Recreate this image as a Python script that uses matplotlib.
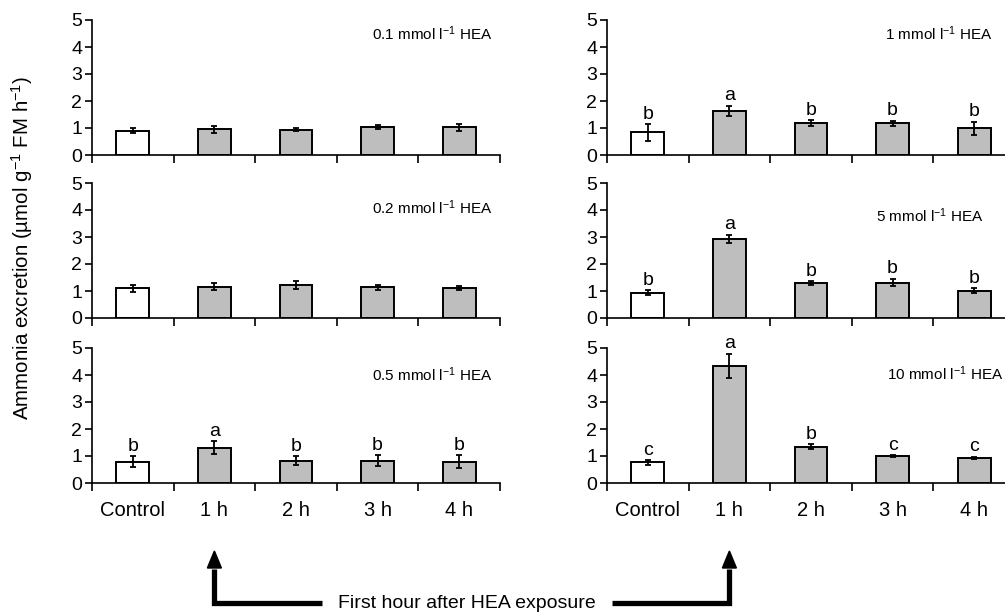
import numpy as np
import matplotlib
matplotlib.use('Agg')
import matplotlib.pyplot as plt
from matplotlib.patches import Polygon

# Arial-like font
plt.rcParams['font.family'] = ['Liberation Sans', 'DejaVu Sans']
plt.rcParams['mathtext.default'] = 'regular'

groups = ['Control', '1 h', '2 h', '3 h', '4 h']

# left column: 0.1, 0.2, 0.5 mmol/l
hea_01 = [0.90, 0.96, 0.94, 1.03, 1.03]
hea_01_err = [0.10, 0.13, 0.06, 0.07, 0.13]
hea_02 = [1.11, 1.16, 1.23, 1.13, 1.11]
hea_02_err = [0.13, 0.13, 0.14, 0.11, 0.09]
hea_05 = [0.79, 1.31, 0.83, 0.83, 0.79]
hea_05_err = [0.20, 0.24, 0.17, 0.21, 0.24]

# right column: 1, 5, 10 mmol/l
hea_1 = [0.84, 1.64, 1.18, 1.18, 0.99]
hea_1_err = [0.31, 0.18, 0.11, 0.09, 0.24]
hea_5 = [0.94, 2.93, 1.30, 1.31, 1.01]
hea_5_err = [0.09, 0.15, 0.06, 0.14, 0.10]
hea_10 = [0.76, 4.34, 1.35, 1.00, 0.94]
hea_10_err = [0.09, 0.45, 0.08, 0.04, 0.04]

letters_05 = ['b', 'a', 'b', 'b', 'b']
letters_1 = ['b', 'a', 'b', 'b', 'b']
letters_5 = ['b', 'a', 'b', 'b', 'b']
letters_10 = ['c', 'a', 'b', 'c', 'c']

conc_labels = ['0.1 mmol l$^{-1}$ HEA', '0.2 mmol l$^{-1}$ HEA', '0.5 mmol l$^{-1}$ HEA',
               '1 mmol l$^{-1}$ HEA', '5 mmol l$^{-1}$ HEA', '10 mmol l$^{-1}$ HEA']

W, H = 1005, 613
fig = plt.figure(figsize=(W / 100, H / 100), dpi=100)

col_x = [92, 607]
ax_w = 408
row_bottom = [155, 318, 483]
ax_h = 135

panels = [
    (0, 0, hea_01, hea_01_err, None, conc_labels[0], (0.983, 0.895)),
    (0, 1, hea_02, hea_02_err, None, conc_labels[1], (0.983, 0.82)),
    (0, 2, hea_05, hea_05_err, letters_05, conc_labels[2], (0.983, 0.80)),
    (1, 0, hea_1, hea_1_err, letters_1, conc_labels[3], (0.946, 0.90)),
    (1, 1, hea_5, hea_5_err, letters_5, conc_labels[4], (0.924, 0.755)),
    (1, 2, hea_10, hea_10_err, letters_10, conc_labels[5], (0.971, 0.81)),
]

x = np.arange(len(groups))
bar_colors = ['white'] + ['#bebebe'] * 4

for col, row, vals, errs, letters, lab, lab_pos in panels:
    ax = fig.add_axes([col_x[col] / W, 1 - row_bottom[row] / H, ax_w / W, ax_h / H])
    ax.bar(x, vals, width=0.4, color=bar_colors, edgecolor='black', linewidth=1.4, zorder=2)
    ax.errorbar(x, vals, yerr=errs, fmt='none', ecolor='black', elinewidth=1.3,
                capsize=2.5, capthick=1.3, zorder=3)
    if letters:
        for xi, v, e, l in zip(x, vals, errs, letters):
            ax.annotate(l, (xi, v + e), xytext=(0, 1), textcoords='offset points',
                        ha='center', va='bottom', fontsize=14)
    ax.text(lab_pos[0], lab_pos[1], lab, transform=ax.transAxes, ha='right', va='center',
            fontsize=11)
    ax.set_xlim(-0.5, 4.5)
    ax.set_ylim(0, 5)
    ax.set_yticks(range(6))
    ax.tick_params(axis='y', labelsize=14, length=5, width=1.2, pad=2)
    ax.set_xticks(x)
    ax.set_xticks(np.arange(-0.5, 5, 1), minor=True)
    ax.tick_params(axis='x', which='major', length=0, labelsize=14.5, pad=13)
    ax.tick_params(axis='x', which='minor', length=6, width=1.2)
    if row == 2:
        ax.set_xticklabels(groups)
    else:
        ax.set_xticklabels([])
    for s in ['top', 'right']:
        ax.spines[s].set_visible(False)
    for s in ['left', 'bottom']:
        ax.spines[s].set_linewidth(1.2)

fig.text(22 / W, 1 - 248 / H, 'Ammonia excretion (µmol g$^{-1}$ FM h$^{-1}$)',
         rotation=90, ha='center', va='center', fontsize=14.8)

# arrows pointing at the 1 h columns, in pixel space
ov = fig.add_axes([0, 0, 1, 1])
ov.set_xlim(0, W)
ov.set_ylim(H, 0)
ov.axis('off')
ov.patch.set_visible(False)

xl = col_x[0] + (1 + 0.5) / 5 * ax_w
xr = col_x[1] + (1 + 0.5) / 5 * ax_w
y_line = 603
y_head = 568
lw = 3.8
ov.plot([xl, xl, 322], [y_head + 1, y_line, y_line], color='black', lw=lw,
        solid_joinstyle='miter', solid_capstyle='butt')
ov.plot([612, xr, xr], [y_line, y_line, y_head + 1], color='black', lw=lw,
        solid_joinstyle='miter', solid_capstyle='butt')
for xa in [xl, xr]:
    ov.add_patch(Polygon([(xa - 7, y_head), (xa + 7, y_head), (xa, 551)], closed=True,
                         color='black'))
ov.text((322 + 612) / 2, y_line, 'First hour after HEA exposure', ha='center', va='center',
        fontsize=14)

plt.savefig('out.png', dpi=100)
